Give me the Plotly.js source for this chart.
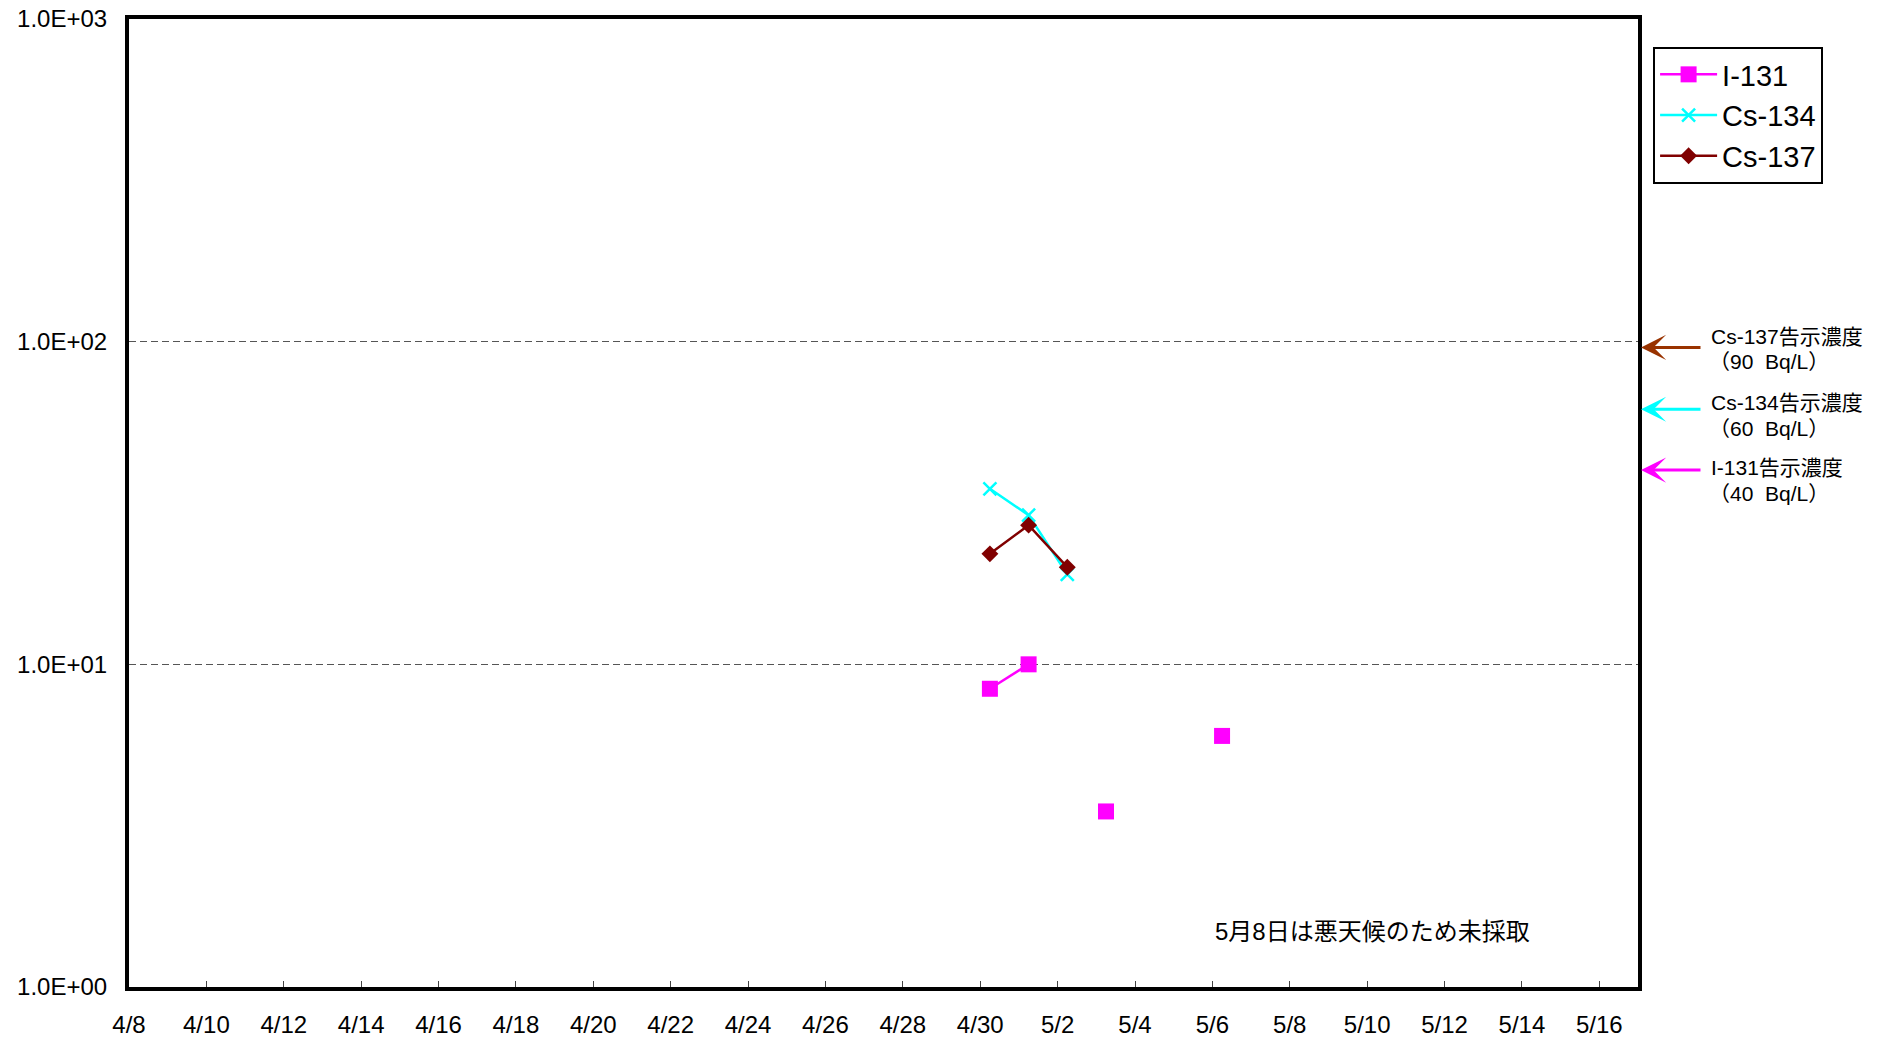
<!DOCTYPE html>
<html>
<head>
<meta charset="utf-8">
<script src="https://cdn.plot.ly/plotly-3.0.1.min.js"></script>
<style>html,body{margin:0;padding:0;background:#fff;}#chart{width:1888px;height:1041px;}</style>
</head>
<body>
<div id="chart"></div>
<script>
// ---- data ----
var sampleDates = ['2011-04-30 06:00','2011-05-01 06:00','2011-05-02 06:00','2011-05-03 06:00','2011-05-04 06:00','2011-05-05 06:00','2011-05-06 06:00'];
var i131 = [8.4, 10.0, null, 3.5, null, null, 6.0];
var cs134 = [35, 29, 19, null, null, null, null];
var cs137 = [22, 27, 20, null, null, null, null];
var seriesNames = ['I-131', 'Cs-134', 'Cs-137'];

var yTickVals = [1, 10, 100, 1000];
var yTickText = ['1.0E+00', '1.0E+01', '1.0E+02', '1.0E+03'];
var xTickVals = ['2011-04-08','2011-04-10','2011-04-12','2011-04-14','2011-04-16','2011-04-18','2011-04-20','2011-04-22','2011-04-24','2011-04-26','2011-04-28','2011-04-30','2011-05-02','2011-05-04','2011-05-06','2011-05-08','2011-05-10','2011-05-12','2011-05-14','2011-05-16'];
var xTickText = ['4/8','4/10','4/12','4/14','4/16','4/18','4/20','4/22','4/24','4/26','4/28','4/30','5/2','5/4','5/6','5/8','5/10','5/12','5/14','5/16'];

var limitNames = ['Cs-137告示濃度', 'Cs-134告示濃度', 'I-131告示濃度'];
var limitValues = [90, 60, 40];
var limitLabels = ['（90\u00a0\u00a0Bq/L）', '（60\u00a0\u00a0Bq/L）', '（40\u00a0\u00a0Bq/L）'];
var limitColors = ['#993300', '#00FFFF', '#FF00FF'];
var note = '5月8日は悪天候のため未採取';

// ---- style ----
var FONT = '"Liberation Sans", Arial, "Noto Sans CJK JP", sans-serif';
var arrowShift = [9, 4, 0];          // pixel nudges of the hand-placed arrows
var labelRowPx = [336, 402, 467];    // first text line centres (page px)
var PLOT_TOP = 19, PLOT_BOTTOM = 1041 - 54;

var traces = [
  {x: sampleDates, y: i131, name: seriesNames[0], type: 'scatter', mode: 'lines+markers', connectgaps: false,
   line: {color: '#FF00FF', width: 2.5}, marker: {symbol: 'square', size: 16, color: '#FF00FF'}},
  {x: sampleDates, y: cs134, name: seriesNames[1], type: 'scatter', mode: 'lines+markers', connectgaps: false,
   line: {color: '#00FFFF', width: 2.5}, marker: {symbol: 'x-thin-open', size: 13, color: '#00FFFF', line: {color: '#00FFFF', width: 2.5}}},
  {x: sampleDates, y: cs137, name: seriesNames[2], type: 'scatter', mode: 'lines+markers', connectgaps: false,
   line: {color: '#800000', width: 2.5}, marker: {symbol: 'diamond', size: 13, color: '#800000'}}
];

function pyPaper(px) { return (PLOT_BOTTOM - px) / (PLOT_BOTTOM - PLOT_TOP); }

var annotations = [];
for (var i = 0; i < limitValues.length; i++) {
  annotations.push({xref: 'paper', yref: 'y', x: 1.0, y: Math.log10(limitValues[i]), xshift: 3, yshift: arrowShift[i],
    text: '', showarrow: true, ax: 61, ay: 0, arrowhead: 3, arrowsize: 1.4, arrowwidth: 3,
    arrowcolor: limitColors[i]});
  annotations.push({xref: 'paper', yref: 'paper', x: 1.0, y: pyPaper(labelRowPx[i]), xshift: 71,
    text: limitNames[i], showarrow: false, xanchor: 'left', yanchor: 'middle',
    font: {family: FONT, size: 21, color: '#000'}});
  annotations.push({xref: 'paper', yref: 'paper', x: 1.0, y: pyPaper(labelRowPx[i] + 26), xshift: 69,
    text: limitLabels[i], showarrow: false, xanchor: 'left', yanchor: 'middle',
    font: {family: FONT, size: 21, color: '#000'}});
}
annotations.push({xref: 'paper', yref: 'paper', x: 0.824, y: pyPaper(931), text: note, showarrow: false,
  xanchor: 'center', yanchor: 'middle', font: {family: FONT, size: 24, color: '#000'}});

var layout = {
  width: 1888, height: 1041,
  margin: {l: 129, r: 250, t: PLOT_TOP, b: 54, pad: 0},
  paper_bgcolor: '#fff', plot_bgcolor: '#fff',
  font: {family: FONT, color: '#000'},
  showlegend: true,
  legend: {x: 1.010, y: pyPaper(47), xanchor: 'left', yanchor: 'top', bordercolor: '#000', borderwidth: 2,
    bgcolor: '#fff', font: {family: FONT, size: 29, color: '#000'}, itemwidth: 57},
  xaxis: {type: 'date', range: ['2011-04-08', '2011-05-17'], tickmode: 'array', tickvals: xTickVals, ticktext: xTickText,
    ticks: 'inside', ticklen: 6, tickwidth: 1, tickcolor: '#444', showgrid: false, zeroline: false,
    showline: true, linecolor: '#000', linewidth: 4, mirror: true,
    tickfont: {family: FONT, size: 24, color: '#000'}, ticklabelstandoff: 13},
  yaxis: {type: 'log', range: [0, 3], tickmode: 'array', tickvals: yTickVals, ticktext: yTickText,
    ticks: '', showgrid: true, gridcolor: '#555', gridwidth: 1, griddash: '7px,4px', zeroline: false,
    showline: true, linecolor: '#000', linewidth: 4, mirror: true,
    tickfont: {family: FONT, size: 24, color: '#000'}, ticklabelstandoff: 13},
  annotations: annotations
};

Plotly.newPlot('chart', traces, layout, {displayModeBar: false, staticPlot: true});
</script>
</body>
</html>
